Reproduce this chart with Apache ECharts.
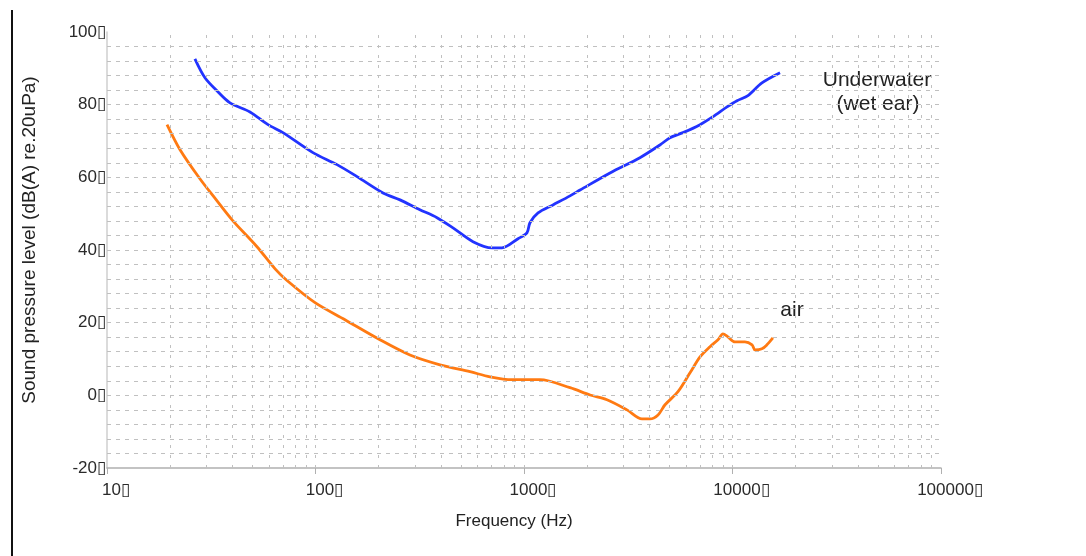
<!DOCTYPE html>
<html>
<head>
<meta charset="utf-8">
<script src="https://cdn.jsdelivr.net/npm/echarts@6/dist/echarts.min.js"></script>
<style>html,body{margin:0;padding:0;background:#fff}#c{width:1086px;height:556px}</style>
</head>
<body>
<div id="c"></div>
<script>
// Frequency (Hz) and level (dB)
const underwaterFreq = [26.4, 29.5, 34.1, 38.9, 48.5, 59.2, 69.8, 97.2, 126.8, 158.2, 210.8, 254.3, 316.7, 382.6, 456.5, 569.3, 702.5, 784, 936, 1033, 1068, 1168, 1377, 1662, 1858, 2585, 3597, 4487, 5012, 5790, 6986, 8060, 9414, 10510, 11860, 13840, 16900];
const underwaterLevel = [92.6, 87.4, 83.5, 80.5, 78.0, 74.5, 72.3, 66.8, 63.5, 60.2, 55.7, 53.8, 51.1, 48.9, 46.1, 42.3, 40.6, 40.6, 43.1, 44.7, 47.5, 50.2, 52.4, 54.9, 56.5, 61.2, 65.4, 68.9, 70.9, 72.3, 74.5, 76.7, 79.4, 81.1, 82.5, 86.0, 88.8];
const airFreq = [19.4, 22.4, 27.9, 33.0, 39.8, 52.4, 64.0, 73.0, 99.5, 138.5, 203.7, 283.8, 395.4, 550.9, 687, 875, 1193, 1663, 2075, 2500, 3119, 3681, 4018, 4394, 4747, 5477, 6256, 6986, 7800, 8520, 9000, 9500, 10270, 11470, 12410, 12830, 13840, 14620, 15620];
const airLevel = [74.5, 67.6, 59.6, 54.2, 48.3, 40.9, 34.8, 31.6, 25.5, 20.8, 15.3, 11.1, 8.4, 6.5, 5.1, 4.3, 4.3, 2.1, 0.1, -1.2, -4.0, -6.5, -6.5, -5.4, -2.6, 1.0, 6.2, 10.6, 13.4, 15.3, 16.9, 16.1, 14.7, 14.7, 13.9, 12.5, 12.8, 13.9, 15.8];
const xTicks = [10, 100, 1000, 10000, 100000];
const yTicks = [-20, 0, 20, 40, 60, 80, 100];
const seriesNames = ['Underwater (wet ear)', 'air'];

const BOX = '\u25AF';
const vLines = [];
for (let d = 10; d < 100000; d *= 10) {
  for (let m = 1; m <= 9; m++) { if (d * m > 10) vLines.push(d * m); }
}
const hLines = [];
for (let v = -16; v < 100; v += 4) hLines.push(v);

const chart = echarts.init(document.getElementById('c'), null, {renderer: 'canvas'});
const font = 'Liberation Sans, Arial, sans-serif';
chart.setOption({
  animation: false,
  backgroundColor: '#fff',
  grid: {left: 107, right: 145, top: 32, bottom: 88, containLabel: false},
  xAxis: {
    type: 'log', logBase: 10, min: xTicks[0], max: xTicks[xTicks.length - 1],
    axisLine: {show: true, onZero: false, lineStyle: {color: '#b0b0b0', width: 1.5}},
    axisTick: {show: true, length: 6, lineStyle: {color: '#b0b0b0'}},
    splitLine: {show: false},
    axisLabel: {
      margin: 14, color: '#2a2a2a', fontFamily: font, fontSize: 17,
      padding: [0, 0, 0, 18],
      formatter: v => String(Math.round(v)) + BOX
    }
  },
  yAxis: {
    type: 'value', min: yTicks[0], max: yTicks[yTicks.length - 1], interval: 20,
    axisLine: {show: true, lineStyle: {color: '#cfcfcf', width: 1.5}},
    axisTick: {show: false},
    splitLine: {show: false},
    axisLabel: {margin: 1, color: '#2a2a2a', fontFamily: font, fontSize: 17,
      formatter: v => String(v) + BOX}
  },
  graphic: [
    {type: 'line', shape: {x1: 12, y1: 10, x2: 12, y2: 556}, style: {stroke: '#111', lineWidth: 2}},
    {type: 'text', x: 30, y: 240, rotation: Math.PI / 2,
      style: {text: 'Sound pressure level (dB(A) re.20uPa)', font: '19px ' + font, fill: '#222', textAlign: 'center', textVerticalAlign: 'middle'}},
    {type: 'text', x: 514, y: 521,
      style: {text: 'Frequency (Hz)', font: '17px ' + font, fill: '#222', textAlign: 'center', textVerticalAlign: 'middle'}},
    {type: 'text', x: 877, y: 80,
      style: {text: 'Underwater', font: '21px ' + font, fill: '#222', textAlign: 'center', textVerticalAlign: 'middle'}},
    {type: 'text', x: 878, y: 104,
      style: {text: '(wet ear)', font: '21px ' + font, fill: '#222', textAlign: 'center', textVerticalAlign: 'middle'}},
    {type: 'text', x: 792, y: 310,
      style: {text: 'air', font: '21px ' + font, fill: '#222', textAlign: 'center', textVerticalAlign: 'middle'}}
  ],
  series: [
    {
      name: 'grid', type: 'line', data: [], z: 1, silent: true,
      markLine: {
        silent: true, symbol: ['none', 'none'], label: {show: false}, animation: false,
        emphasis: {disabled: true},
        data: vLines.map(v => ({xAxis: v, lineStyle: {color: '#c0c0c0', width: 1, type: [3, 7]}}))
          .concat(hLines.map(v => ({yAxis: v, lineStyle: {color: '#c0c0c0', width: 1, type: [4, 5]}})))
      }
    },
    {
      name: seriesNames[0], type: 'line', z: 3, showSymbol: false, smooth: 0.3,
      data: underwaterFreq.map((f, i) => [f, underwaterLevel[i]]),
      lineStyle: {color: '#2233ff', width: 2.8}, itemStyle: {color: '#2233ff'}
    },
    {
      name: seriesNames[1], type: 'line', z: 3, showSymbol: false, smooth: 0.3,
      data: airFreq.map((f, i) => [f, airLevel[i]]),
      lineStyle: {color: '#ff7a12', width: 2.8}, itemStyle: {color: '#ff7a12'}
    }
  ]
});
</script>
</body>
</html>
